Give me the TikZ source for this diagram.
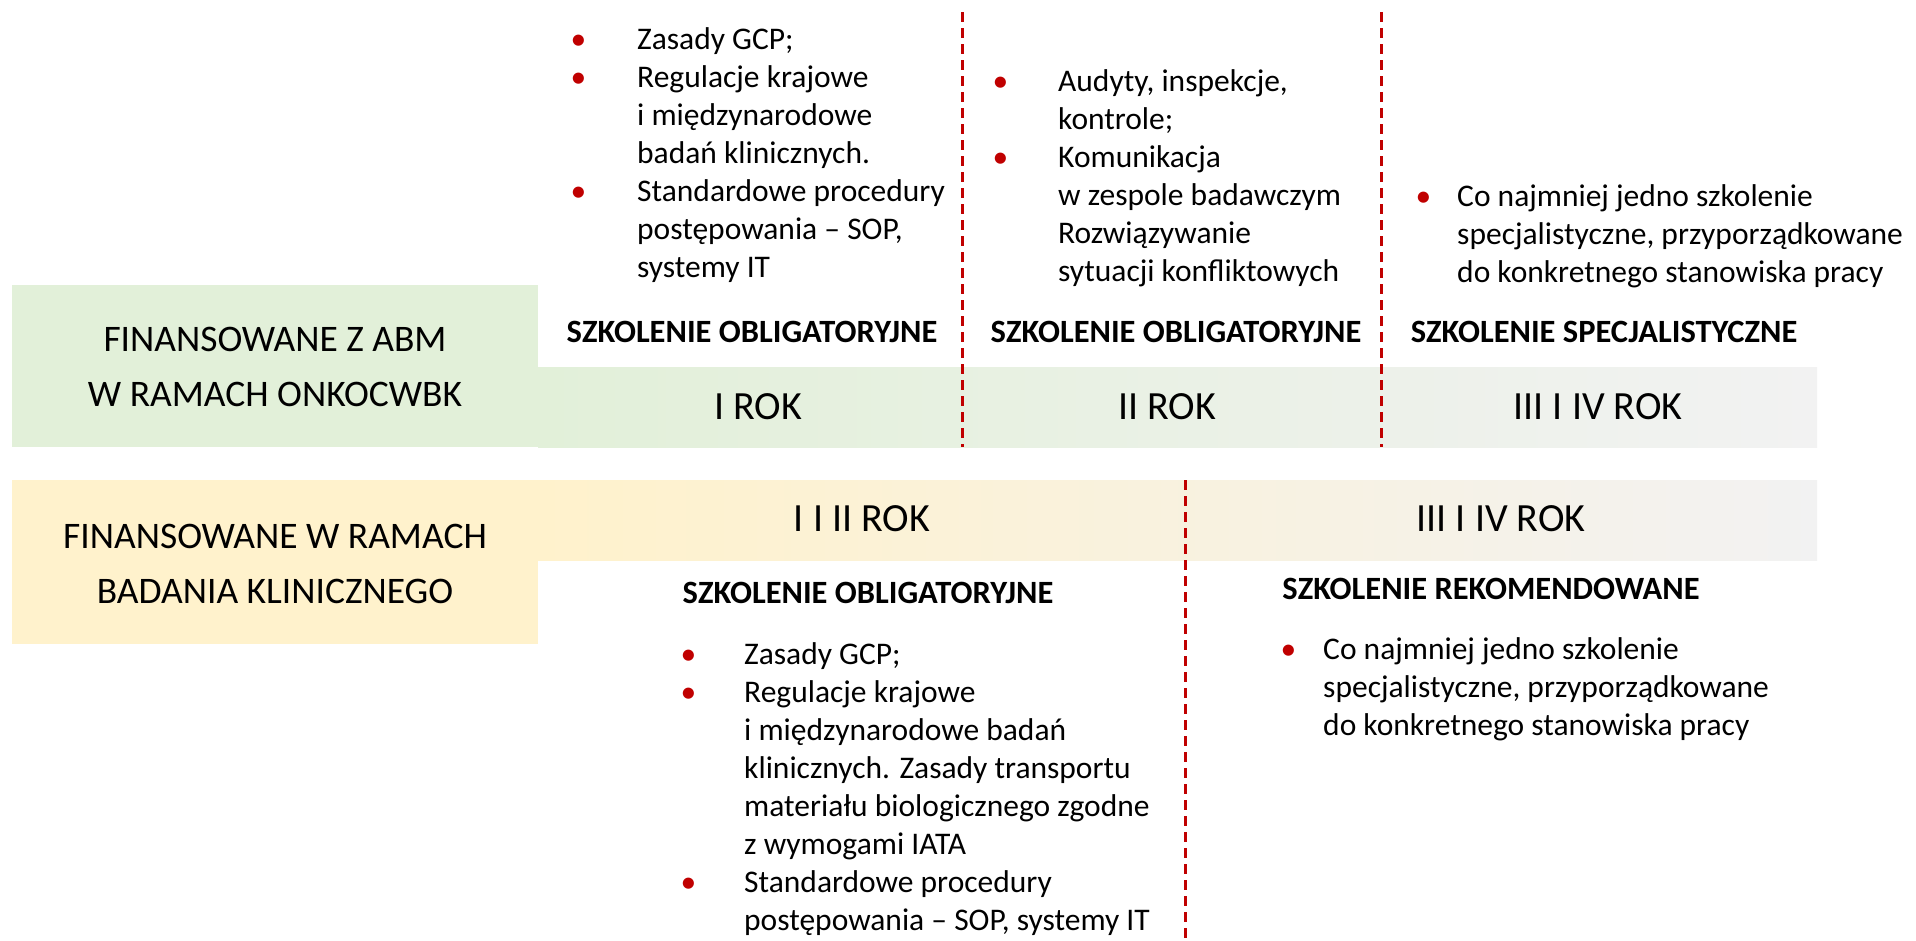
\documentclass[tikz,border=0pt]{standalone}
\usepackage{fontspec}
\setmainfont{Carlito}

\definecolor{abmgreen}{HTML}{E2F0D9}
\definecolor{trialyellow}{HTML}{FFF2CC}
\definecolor{fadegray}{HTML}{F2F2F2}
\definecolor{sepred}{HTML}{C00000}

% red bullet hanging left of the item text
\newcommand{\bul}[1]{\llap{\textcolor{sepred}{\textbullet}\hspace{#1}}}

\tikzset{
  biglabel/.style={font=\fontsize{37.5}{55}\selectfont, align=center, inner sep=0pt},
  yearlabel/.style={font=\fontsize{40}{40}\selectfont, inner sep=0pt},
  headlabel/.style={font=\bfseries\fontsize{32.5}{32.5}\selectfont, inner sep=0pt},
  itemlist/.style={font=\fontsize{31.5}{38}\selectfont, align=left, anchor=north west, inner sep=0pt},
  yearsep/.style={sepred, line width=3pt, dash pattern=on 10pt off 6pt}
}

\begin{document}
\begin{tikzpicture}[x=1pt,y=-1pt]
        \useasboundingbox (0,0) rectangle (1916,940);

        % draw the coloured bands
        \fill[abmgreen] (12,285) rectangle (538,447);
        \shade[left color=abmgreen, right color=fadegray] (538,367) rectangle (1817,447);
        \fill[trialyellow] (12,480) rectangle (538,644);
        \shade[left color=trialyellow, right color=fadegray] (538,480) rectangle (1817,560);

        % draw the year separators
        \foreach \sx in {962,1381}
                \draw[yearsep] (\sx,12) -- (\sx,447);
        \draw[yearsep] (1185,480) -- (1185,940);

        % funding labels
        \node[biglabel] (abm) at (275,367) {FINANSOWANE Z ABM\\W RAMACH ONKOCWBK};
        \node[biglabel] (trial) at (275,564) {FINANSOWANE W RAMACH\\BADANIA KLINICZNEGO};

        % years
        \node[yearlabel] (rokA) at (758,407) {I ROK};
        \node[yearlabel] (rokB) at (1167,407) {II ROK};
        \node[yearlabel] (rokC) at (1598,407) {III I IV ROK};
        \node[yearlabel] (rokAB) at (862,519) {I I II ROK};
        \node[yearlabel] (rokCD) at (1501,519) {III I IV ROK};

        % kinds of training
        \node[headlabel] (oblA) at (752,332) {SZKOLENIE OBLIGATORYJNE};
        \node[headlabel] (oblB) at (1176,332) {SZKOLENIE OBLIGATORYJNE};
        \node[headlabel] (spec) at (1604,332) {SZKOLENIE SPECJALISTYCZNE};
        \node[headlabel] (oblAB) at (868,593) {SZKOLENIE OBLIGATORYJNE};
        \node[headlabel] (rekom) at (1491,589) {SZKOLENIE REKOMENDOWANE};

        % lists of courses
        \node[itemlist] (listA) at (637,27) {\bul{51pt}Zasady GCP;\\
                \bul{51pt}Regulacje krajowe\\i międzynarodowe\\badań klinicznych.\\
                \bul{51pt}Standardowe procedury\\postępowania – SOP,\\systemy IT};
        \node[itemlist] (listB) at (1058,69) {\bul{50pt}Audyty, inspekcje,\\kontrole;\\
                \bul{50pt}Komunikacja\\w zespole badawczym\\Rozwiązywanie\\sytuacji konfliktowych};
        \node[itemlist] (listC) at (1457,184) {\bul{26pt}Co najmniej jedno szkolenie\\
                specjalistyczne, przyporządkowane\\do konkretnego stanowiska pracy};
        \node[itemlist] (listAB) at (744,642) {\bul{48pt}Zasady GCP;\\
                \bul{48pt}Regulacje krajowe\\i międzynarodowe badań\\klinicznych. Zasady transportu\\
                materiału biologicznego zgodne\\z wymogami IATA\\
                \bul{48pt}Standardowe procedury\\postępowania – SOP, systemy IT};
        \node[itemlist] (listCD) at (1323,637) {\bul{27pt}Co najmniej jedno szkolenie\\
                specjalistyczne, przyporządkowane\\do konkretnego stanowiska pracy};

\end{tikzpicture}
\end{document}
